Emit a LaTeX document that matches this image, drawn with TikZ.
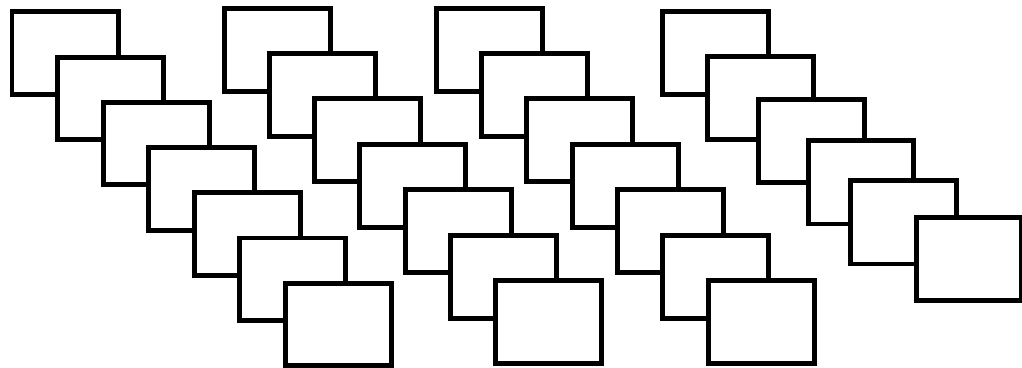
\documentclass[tikz,border=0pt]{standalone}
\begin{document}
\begin{tikzpicture}[x=0.02cm,y=-0.02cm,
		card/.style={draw=black,fill=white,line width=0.1cm}]
		
		\useasboundingbox (0,0) rectangle (1022,368);
		
		% First stack
		\foreach \i in {0,...,6}
		\draw[card] ({12+45.5*\i},{12+45.2*\i}) rectangle ++(106,82.5);
		
		% Second stack
		\foreach \i in {0,...,6}
		\draw[card] ({224+45.3*\i},{8.2+45.4*\i}) rectangle ++(106,83);
		
		% Third stack
		\foreach \i in {0,...,6}
		\draw[card] ({436.2+45.35*\i},{8.2+45.4*\i}) rectangle ++(106,83);
		
		% Fourth stack
		\foreach \l/\t in {662.8/11.8, 707.8/56.7, 758.5/100, 808.2/141, 850.8/181, 916/217.7}
		\draw[card] (\l,\t) rectangle ++(105.5,83);
		
	\end{tikzpicture}
\end{document}
